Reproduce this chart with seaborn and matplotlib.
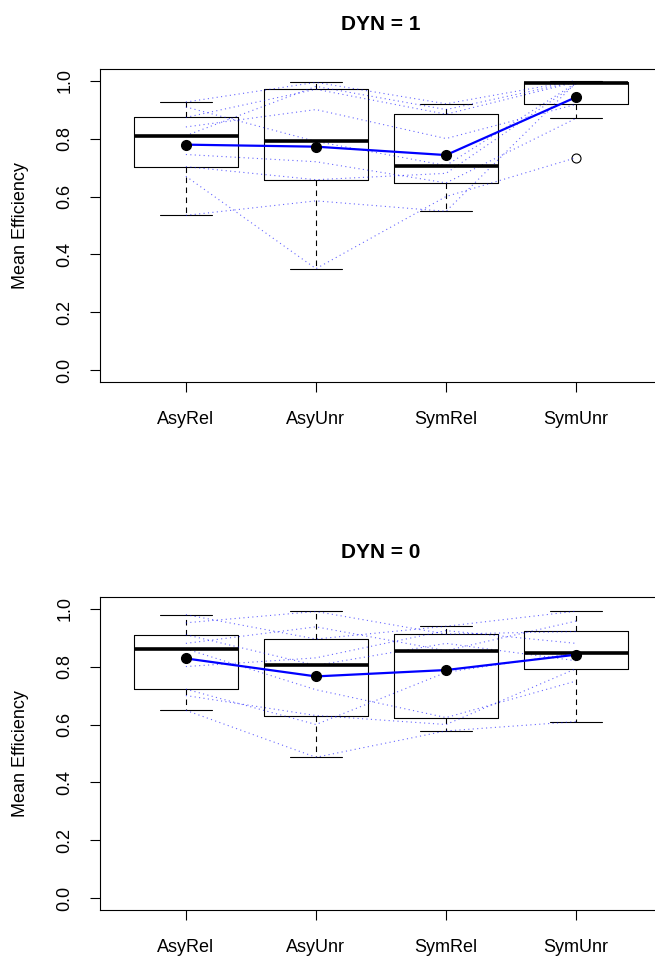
import pandas as pd
import matplotlib
matplotlib.use('Agg')
from matplotlib import pyplot as plt
import seaborn as sns

conds = ['AsyRel', 'AsyUnr', 'SymRel', 'SymUnr']
subjects = ['S1', 'S2', 'S3', 'S4', 'S5', 'S6', 'S7', 'S8', 'S9']

# DYN = 1, one value per subject (S1..S9) in each condition
dyn1_asyrel = [0.926, 0.909, 0.873, 0.840, 0.810, 0.745, 0.703, 0.670, 0.535]
dyn1_asyunr = [0.994, 0.790, 0.970, 0.900, 0.980, 0.720, 0.658, 0.351, 0.585]
dyn1_symrel = [0.920, 0.707, 0.884, 0.800, 0.900, 0.647, 0.680, 0.600, 0.549]
dyn1_symunr = [1.000, 0.992, 0.995, 0.918, 0.997, 0.870, 0.988, 0.734, 0.993]

# DYN = 0
dyn0_asyrel = [0.979, 0.951, 0.910, 0.880, 0.861, 0.800, 0.722, 0.700, 0.649]
dyn0_asyunr = [0.895, 0.990, 0.804, 0.937, 0.720, 0.830, 0.600, 0.631, 0.487]
dyn0_symrel = [0.939, 0.912, 0.880, 0.855, 0.624, 0.924, 0.780, 0.600, 0.578]
dyn0_symunr = [0.991, 0.921, 0.820, 0.957, 0.750, 0.880, 0.847, 0.793, 0.610]

y_ticks = [0.0, 0.2, 0.4, 0.6, 0.8, 1.0]


def make_df(cols):
    rows = []
    for i, (c, vals) in enumerate(zip(conds, cols)):
        for s, v in zip(subjects, vals):
            rows.append({'cond': c, 'pos': i, 'subject': s, 'eff': v})
    return pd.DataFrame(rows)


df1 = make_df([dyn1_asyrel, dyn1_asyunr, dyn1_symrel, dyn1_symunr])
df0 = make_df([dyn0_asyrel, dyn0_asyunr, dyn0_symrel, dyn0_symunr])

sns.set_theme(style='white')
plt.rcParams['font.family'] = ['Liberation Sans', 'DejaVu Sans']
plt.rcParams['text.color'] = 'black'
plt.rcParams['axes.labelcolor'] = 'black'
plt.rcParams['xtick.color'] = 'black'
plt.rcParams['ytick.color'] = 'black'

fig = plt.figure(figsize=(6.55, 9.56), dpi=100)
# plot box runs past the right edge of the image, as in the original
ax1 = fig.add_axes([100 / 655, 1 - 382 / 956, 562 / 655, 313 / 956])
ax2 = fig.add_axes([100 / 655, 1 - 910 / 956, 562 / 655, 313 / 956])


def draw(ax, df, title):
    sns.boxplot(
        data=df, x='cond', y='eff', order=conds, ax=ax,
        fill=False, color='black', width=0.8, linewidth=0.8,
        whiskerprops={'linestyle': (0, (5, 4))},
        medianprops={'linewidth': 2.6, 'solid_capstyle': 'butt'},
        flierprops={'marker': 'o', 'markersize': 6.5, 'markerfacecolor': 'white',
                    'markeredgecolor': 'black', 'markeredgewidth': 0.8},
    )
    sns.lineplot(
        data=df, x='pos', y='eff', units='subject', estimator=None,
        color='blue', linewidth=0.8, linestyle=(0, (1, 3)), alpha=0.6,
        ax=ax, legend=False,
    )
    means = df.groupby('cond')['eff'].mean().reindex(conds)
    ax.plot(range(len(conds)), means.values, color='blue', lw=1.6, zorder=4)
    ax.plot(range(len(conds)), means.values, 'o', color='black', ms=7, zorder=5)

    ax.set_xlim(-0.66, 3.66)
    ax.set_ylim(-0.04, 1.04)
    ax.set_xticks(range(len(conds)))
    ax.set_xticklabels(conds)
    ax.set_yticks(y_ticks)
    ax.set_yticklabels([f'{t:.1f}' for t in y_ticks], rotation=90, va='center')
    ax.tick_params(direction='out', length=7, width=0.8, color='black',
                   labelcolor='black', labelsize=13, left=True, bottom=True)
    ax.tick_params(axis='x', pad=14)
    ax.tick_params(axis='y', pad=12)
    for sp in ax.spines.values():
        sp.set_color('black')
        sp.set_linewidth(0.8)
    ax.set_xlabel('')
    ax.set_ylabel('Mean Efficiency', fontsize=13)
    ax.yaxis.set_label_coords(-0.126, 0.5)
    ax.set_title(title, fontweight='bold', fontsize=15, pad=28)


draw(ax1, df1, 'DYN = 1')
draw(ax2, df0, 'DYN = 0')

fig.savefig('out.png', dpi=100)
